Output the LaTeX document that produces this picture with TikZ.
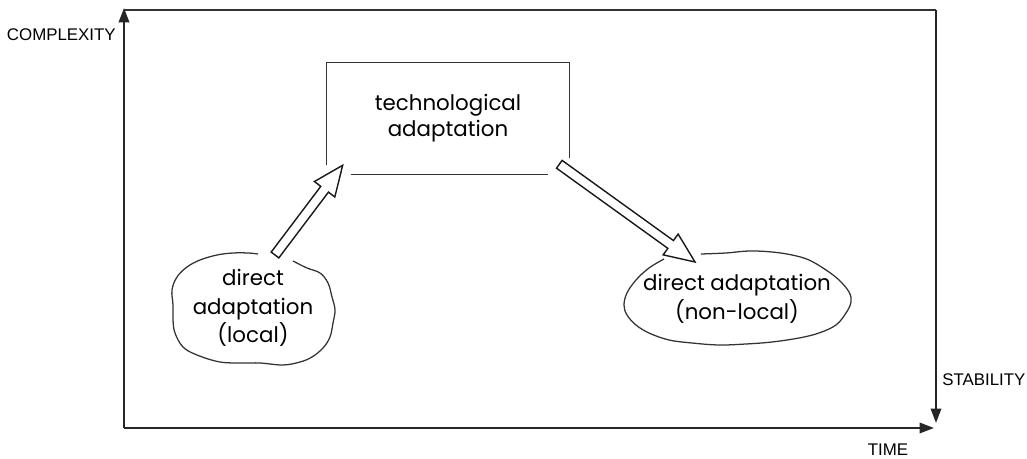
\documentclass[tikz,border=0pt]{standalone}
\usepackage{fontspec}
\setmainfont{Poppins}
\newfontfamily\axisfont{Liberation Sans}
\usetikzlibrary{arrows.meta,calc,positioning}

\begin{document}
\begin{tikzpicture}[x=0.025cm, y=0.025cm]

\tikzstyle{blob} = [align=center, inner sep=0pt, font=\fontsize{15.2}{20.5}\selectfont]
\tikzstyle{axislabel} = [inner sep=0pt, font=\axisfont\fontsize{12}{14}\selectfont]
\tikzstyle{axis} = [line width=1.5pt, black!85, -{Triangle[length=0.36cm, width=0.26cm]}]
\tikzstyle{edge} = [line width=0.9pt, black!80]
\tikzstyle{hollow} = [line width=1pt, black!90, line join=miter, to path={
  let \p1=(\tikztostart), \p2=(\tikztotarget), \p3=($(\p2)!0.75cm!(\p1)$) in
  ($(\p1)!0.12cm!90:(\p2)$) -- ($(\p3)!0.12cm!-90:(\p1)$) -- ($(\p3)!0.32cm!-90:(\p1)$)
  -- (\p2) -- ($(\p3)!0.32cm!90:(\p1)$) -- ($(\p3)!0.12cm!90:(\p1)$) -- ($(\p1)!0.12cm!-90:(\p2)$) -- cycle}]

\useasboundingbox (0,0) rectangle (1027,459);

%% -----------
%% -- FRAME --
%% -----------

\coordinate (origin) at (124,31);
\coordinate (complexity_end) at (124,451);
\coordinate (top_right) at (936,449);
\coordinate (stability_end) at (936,36);
\coordinate (time_end) at (934,31);

\draw [axis] (origin) -- (complexity_end);
\draw [edge] (origin |- top_right) -- (top_right);
\draw [axis] (top_right) -- (stability_end);
\draw [axis] (origin) -- (time_end);

\node (complexity) [axislabel, anchor=east] at (116,424) {COMPLEXITY};
\node (stability) [axislabel, anchor=west] at (942,79) {STABILITY};
\node (time) [axislabel] at (888,9) {TIME};

%% ------------
%% -- STAGES --
%% ------------

% technological
\node (tech) [blob, font=\fontsize{15.2}{18.5}\selectfont, minimum width=6.05cm, minimum height=2.775cm] at (448,340.5) {technological\\adaptation};
\draw [edge] ($(tech.south west)+(0,9)$) -- (tech.north west) -- (tech.north east) -- ($(tech.south east)+(0,16)$);
\draw [edge] ($(tech.south west)+(24,0)$) -- ($(tech.south east)+(-21,0)$);

% local
\node (local) [blob] at (253,151) {direct\\adaptation\\(local)};
\draw [edge, shift={(local.center)}] plot [smooth, tension=0.6] coordinates {
  (40,47) (54,40) (67,35) (75,25) (79,11) (82,-2) (80,-15) (77,-29) (70,-40) (59,-49)
  (47,-54) (30,-57) (7,-55) (-10,-55) (-33,-54) (-56,-47) (-70,-39) (-78,-25) (-80,-12)
  (-80,3) (-81,18) (-76,31) (-66,41) (-53,48) (-36,53) (-20,55) (-5,55) (5,54)};

% non-local
\node (nonlocal) [blob] at (737,160) {direct adaptation\\(non-local)};
\draw [edge, shift={(nonlocal.center)}] plot [smooth, tension=0.6] coordinates {
  (-36,45) (-11,46) (12,48) (35,47) (55,44) (72,39) (89,29) (102,19) (112,7) (114,-3)
  (109,-14) (99,-26) (82,-34) (62,-39) (35,-43) (9,-45) (-18,-46) (-45,-44) (-68,-41)
  (-88,-34) (-101,-26) (-110,-16) (-113,-6) (-110,6) (-101,19) (-88,31) (-73,40)};

% arrows
\coordinate (up_tail) at ($(local.center)+(22,53)$);
\coordinate (up_tip) at ($(tech.south west)+(16,9)$);
\draw [hollow] (up_tail) to (up_tip);

\coordinate (down_tail) at ($(tech.south east)+(-10,10)$);
\coordinate (down_tip) at ($(nonlocal.center)+(-42,37)$);
\draw [hollow] (down_tail) to (down_tip);

\end{tikzpicture}
\end{document}
